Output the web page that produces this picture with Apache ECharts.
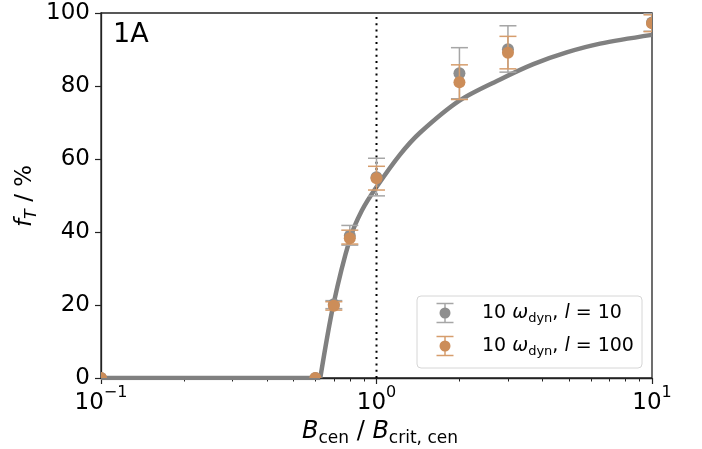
<!DOCTYPE html>
<html>
<head>
<meta charset="utf-8">
<script src="https://cdn.jsdelivr.net/npm/echarts@6/dist/echarts.min.js"></script>
<style>
  html, body { margin: 0; padding: 0; background: #fff; }
  #chart { width: 702px; height: 449px; }
</style>
</head>
<body>
<div id="chart"></div>
<script>
// Field strength ratios where the trapped fraction was measured
const xValues = [0.1, 0.6, 0.7, 0.8, 1.0, 2.0, 3.0, 10.0];

// Run with l = 10
const greyMean = [0, 0, 20.2, 39.0, 55.0, 83.5, 90.1, 97.4];
const greyLow  = [0, 0, 19.0, 36.4, 49.9, 76.5, 83.8, 95.0];
const greyHigh = [0, 0, 21.2, 41.8, 60.2, 90.5, 96.5, 99.8];

// Run with l = 100
const orangeMean = [0, 0, 19.8, 38.3, 54.7, 81.0, 89.1, 97.2];
const orangeLow  = [0, 0, 18.6, 36.7, 51.5, 76.3, 84.7, 94.9];
const orangeHigh = [0, 0, 20.9, 40.5, 58.0, 85.8, 93.6, 99.5];

// Model curve
const flatX = [0.1, 0.625];
const flatY = [0, 0];
const curveX = [0.625, 0.697, 0.80, 0.884, 1.0, 1.217, 1.438, 2.0, 2.81, 3.71, 4.9, 6.48, 10.0];
const curveY = [0, 20.0, 38.0, 45.8, 52.3, 61.2, 67.2, 76.0, 81.8, 86.0, 89.2, 91.6, 94.0];

// Axis ticks
const yTicks = [0, 20, 40, 60, 80, 100];
const xMajorTicks = [0.1, 1, 10];
const xMinorTicks = [0.2, 0.3, 0.4, 0.5, 0.6, 0.7, 0.8, 0.9, 2, 3, 4, 5, 6, 7, 8, 9];
const xTickExponents = { '0.1': '−1', '1': '0', '10': '1' };

const FONT = 'DejaVu Sans';
const GREY_MARK = '#8e8e8e', GREY_BAR = '#a6a6a6';
const ORANGE_MARK = '#cc8d59', ORANGE_BAR = '#d69d6c';

function zipSeries(mean, low, high) {
  return xValues.map((x, i) => [x, mean[i], low[i], high[i]]);
}

function errorBarRenderer(markColor, barColor) {
  return function (params, api) {
    const c = api.coord([api.value(0), api.value(1)]);
    const lo = api.coord([api.value(0), api.value(2)]);
    const hi = api.coord([api.value(0), api.value(3)]);
    const cap = 8.5;
    const bar = { stroke: barColor, lineWidth: 1.5 };
    const children = [];
    if (Math.abs(lo[1] - hi[1]) > 0.5) {
      children.push(
        { type: 'line', shape: { x1: c[0], y1: hi[1], x2: c[0], y2: lo[1] }, style: bar },
        { type: 'line', shape: { x1: c[0] - cap, y1: hi[1], x2: c[0] + cap, y2: hi[1] }, style: bar },
        { type: 'line', shape: { x1: c[0] - cap, y1: lo[1], x2: c[0] + cap, y2: lo[1] }, style: bar }
      );
    }
    children.push({ type: 'circle', shape: { cx: c[0], cy: c[1], r: 6 }, style: { fill: markColor } });
    return { type: 'group', children: children };
  };
}

function mathRich(main, small) {
  return {
    n: { fontFamily: FONT, fontSize: main, color: '#000', lineHeight: 30, verticalAlign: 'middle' },
    it: { fontFamily: FONT, fontSize: main, fontStyle: 'italic', color: '#000', lineHeight: 30, verticalAlign: 'middle' },
    sub: { fontFamily: FONT, fontSize: small, color: '#000', lineHeight: 16, verticalAlign: 'bottom' },
    subit: { fontFamily: FONT, fontSize: small, fontStyle: 'italic', color: '#000', lineHeight: 16, verticalAlign: 'bottom' }
  };
}

const legendRich = {
  n: { fontFamily: FONT, fontSize: 19, color: '#000', lineHeight: 24, verticalAlign: 'middle' },
  it: { fontFamily: FONT, fontSize: 19, fontStyle: 'italic', color: '#000', lineHeight: 24, verticalAlign: 'middle' },
  sub: { fontFamily: FONT, fontSize: 13, color: '#000', lineHeight: 13, verticalAlign: 'bottom' }
};

const chart = echarts.init(document.getElementById('chart'), null, { renderer: 'canvas' });

const legendX = 417, legendY = 296, legendW = 225, legendH = 72;
const legendRows = [
  { y: 313, mark: GREY_MARK, bar: GREY_BAR, label: '{n|10 }{it|ω}{sub|dyn}{n|, }{it|l}{n| = 10}' },
  { y: 346, mark: ORANGE_MARK, bar: ORANGE_BAR, label: '{n|10 }{it|ω}{sub|dyn}{n|, }{it|l}{n| = 100}' }
];
const legendGraphics = [{
  type: 'rect', z: 100,
  shape: { x: legendX, y: legendY, width: legendW, height: legendH, r: 4 },
  style: { fill: 'rgba(255,255,255,0.8)', stroke: '#d6d6d6', lineWidth: 1 }
}];
legendRows.forEach(row => {
  const cx = 445, half = 9.5, cap = 8.5;
  const bar = { stroke: row.bar, lineWidth: 1.5 };
  legendGraphics.push(
    { type: 'line', z: 101, shape: { x1: cx, y1: row.y - half, x2: cx, y2: row.y + half }, style: bar },
    { type: 'line', z: 101, shape: { x1: cx - cap, y1: row.y - half, x2: cx + cap, y2: row.y - half }, style: bar },
    { type: 'line', z: 101, shape: { x1: cx - cap, y1: row.y + half, x2: cx + cap, y2: row.y + half }, style: bar },
    { type: 'circle', z: 102, shape: { cx: cx, cy: row.y, r: 5.5 }, style: { fill: row.mark } },
    { type: 'text', z: 102, x: 482, y: row.y, style: { text: row.label, rich: legendRich, verticalAlign: 'middle', align: 'left' } }
  );
});

chart.setOption({
  animation: false,
  backgroundColor: '#fff',
  grid: { left: 101, top: 13, width: 551, height: 365, show: true, borderColor: '#222', borderWidth: 1.3, backgroundColor: 'transparent' },
  xAxis: [{
    type: 'log', logBase: 10, min: 0.1, max: 10,
    axisLine: { show: true, onZero: false, lineStyle: { color: '#222', width: 1.3 } },
    axisTick: { show: true, inside: false, length: 6, lineStyle: { color: '#222', width: 1.2 }, customValues: xMajorTicks },
    splitLine: { show: false },
    axisLabel: {
      show: true, margin: 7, customValues: xMajorTicks,
      formatter: v => '{b|10}{s|' + xTickExponents[String(+v)] + '}',
      rich: {
        b: { fontFamily: FONT, fontSize: 23, color: '#000', lineHeight: 30, verticalAlign: 'bottom' },
        s: { fontFamily: FONT, fontSize: 16, color: '#000', lineHeight: 17, verticalAlign: 'top' }
      }
    }
  }, {
    type: 'log', logBase: 10, min: 0.1, max: 10, position: 'bottom',
    axisLine: { show: false },
    axisTick: { show: true, inside: false, length: 3.5, lineStyle: { color: '#222', width: 1 }, customValues: xMinorTicks },
    axisLabel: { show: false },
    splitLine: { show: false }
  }],
  yAxis: {
    type: 'value', min: 0, max: 100, interval: 20,
    axisLine: { show: true, lineStyle: { color: '#222', width: 1.3 } },
    axisTick: { show: true, inside: false, length: 6, lineStyle: { color: '#222', width: 1.2 } },
    splitLine: { show: false },
    axisLabel: { margin: 11, fontFamily: FONT, fontSize: 23, color: '#000', formatter: v => yTicks.includes(v) ? String(v) : '' }
  },
  graphic: [
    { type: 'text', x: 113, y: 35, style: { text: '1A', fontFamily: FONT, fontSize: 27, fill: '#000', verticalAlign: 'middle' } },
    { type: 'text', x: 380, y: 432, style: { text: '{it|B}{sub|cen}{n| / }{it|B}{sub|crit, cen}', rich: mathRich(24, 17), align: 'center', verticalAlign: 'middle' } },
    { type: 'text', x: 25, y: 196, rotation: Math.PI / 2, style: { text: '{it|f}{subit|T}{n| / %}', rich: mathRich(23, 16), align: 'center', verticalAlign: 'middle' } }
  ].concat(legendGraphics),
  series: [
    {
      name: 'model-flat', type: 'line', xAxisIndex: 0, data: flatX.map((x, i) => [x, flatY[i]]),
      showSymbol: false, lineStyle: { color: '#808080', width: 4.5 }, z: 2, clip: true
    },
    {
      name: 'model', type: 'line', xAxisIndex: 0, data: curveX.map((x, i) => [x, curveY[i]]),
      showSymbol: false, smooth: 0.3, lineStyle: { color: '#808080', width: 4.5 }, z: 2, clip: true
    },
    {
      name: 'critical', type: 'line', xAxisIndex: 0, data: [[1, 0], [1, 100]],
      showSymbol: false, lineStyle: { color: '#000', width: 2, type: [2, 4.3] }, z: 3
    },
    {
      name: '10 ωdyn, l = 10', type: 'custom', xAxisIndex: 0, clip: true, z: 4,
      renderItem: errorBarRenderer(GREY_MARK, GREY_BAR), data: zipSeries(greyMean, greyLow, greyHigh)
    },
    {
      name: '10 ωdyn, l = 100', type: 'custom', xAxisIndex: 0, clip: true, z: 5,
      renderItem: errorBarRenderer(ORANGE_MARK, ORANGE_BAR), data: zipSeries(orangeMean, orangeLow, orangeHigh)
    }
  ]
});
</script>
</body>
</html>
